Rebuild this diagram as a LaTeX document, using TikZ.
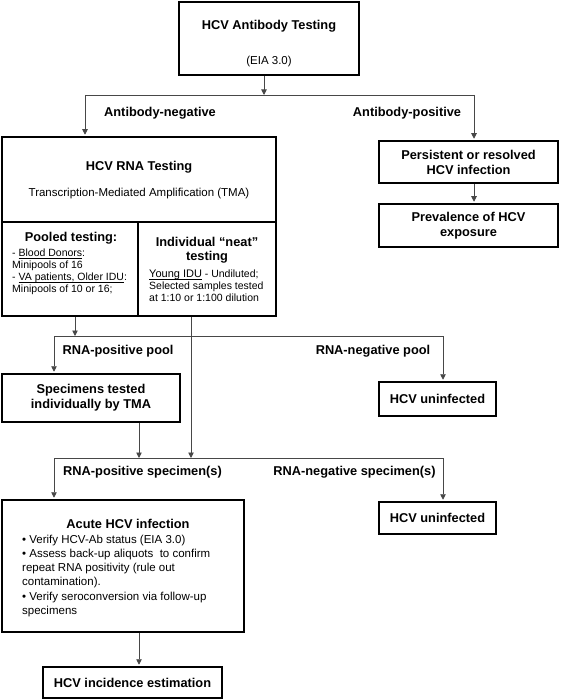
\documentclass[tikz,border=0pt]{standalone}
\usepackage{fontspec}
\setmainfont{Liberation Sans}
\usetikzlibrary{arrows.meta}
\newcommand\hbold{\fontsize{12.8}{15}\selectfont\bfseries}
\newcommand\hreg{\fontsize{11.5}{14.3}\selectfont}
\newcommand\hsmall{\fontsize{10.5}{12}\selectfont}
\newcommand\myul[1]{\setbox0\hbox{#1}\rlap{\rule[-1.4pt]{\wd0}{0.5pt}}\box0\relax}
\tikzset{
  box/.style={draw=black, line width=2.3pt, inner sep=0pt, align=center, font=\hbold},
  conn/.style={draw=black!72, line width=0.9pt},
  arr/.style={conn, -{Triangle[length=5.5pt,width=5.5pt]}},
  arrbox/.style={arr, shorten >=1.1pt},
  lbl/.style={font=\hbold, inner sep=0pt},
  txt/.style={font=\hreg, inner sep=0pt},
  lst/.style={inner sep=0pt, align=left, anchor=north west},
}
\begin{document}
\begin{tikzpicture}[x=1pt, y=-1pt]
\useasboundingbox (0,0) rectangle (560,700);
% boxes
\node[box, minimum width=180pt, minimum height=73pt] (abtest) at (269,38.5) {};
\node[lbl] (abtestt) at (269,26) {HCV Antibody Testing};
\node[txt] (abtests) at (269,62) {(EIA 3.0)};

\node[box, minimum width=274pt, minimum height=85pt] (rna) at (139,179.5) {};
\node[lbl] (rnat) at (139,167) {HCV RNA Testing};
\node[txt] (rnas) at (139,194) {Transcription-Mediated Amplification (TMA)};

\node[box, minimum width=136pt, minimum height=94pt] (pooled) at (70,269) {};
\node[lbl] (pooledt) at (71,238) {Pooled testing:};
\node[lst, font=\hsmall] (pooledl) at (12,249) {- \myul{Blood Donors}:\\Minipools of 16\\- \myul{VA patients, Older IDU}:\\Minipools of 10 or 16;};

\node[box, minimum width=138pt, minimum height=94pt] (neat) at (207,269) {};
\node[lbl, align=center, font=\fontsize{12.8}{14}\selectfont\bfseries] (neatt) at (207,250.5) {Individual “neat”\\testing};
\node[lst, font=\hsmall] (neatl) at (149,270) {\myul{\fontsize{11}{12}\selectfont Young IDU} - Undiluted;\\Selected samples tested\\at 1:10 or 1:100 dilution};

\node[box, minimum width=179pt, minimum height=42pt] (persist) at (468.5,162) {Persistent or resolved\\HCV infection};
\node[box, minimum width=179pt, minimum height=43pt] (prev) at (468.5,225.5) {Prevalence of HCV\\exposure};

\node[box, minimum width=178pt, minimum height=48pt] (spec) at (91,398) {Specimens tested\\individually by TMA};
\node[box, minimum width=117pt, minimum height=34pt] (uninfa) at (437.5,399) {HCV uninfected};

\node[box, minimum width=242pt, minimum height=132pt] (acute) at (123,566) {};
\node[lbl] (acutet) at (128,524) {Acute HCV infection};
\node[lst, font=\hreg] (acutel) at (22,534.5) {• Verify HCV-Ab status (EIA 3.0)\\• Assess back-up aliquots~ to confirm\\repeat RNA positivity (rule out\\contamination).\\• Verify seroconversion via follow-up\\specimens};

\node[box, minimum width=117pt, minimum height=32pt] (uninfb) at (437.5,518) {HCV uninfected};
\node[box, minimum width=179pt, minimum height=31pt] (incid) at (132.5,682.5) {HCV incidence estimation};

% labels
\node[lbl] (labneg) at (160,113) {Antibody-negative};
\node[lbl] (labpos) at (407,113) {Antibody-positive};
\node[lbl] (labpp) at (118,351) {RNA-positive pool};
\node[lbl] (labnp) at (373,351) {RNA-negative pool};
\node[lbl] (labps) at (142.5,472) {RNA-positive specimen(s)};
\node[lbl] (labns) at (354.5,472) {RNA-negative specimen(s)};

% connectors
\coordinate (j1) at (264,95);
\coordinate (j1l) at (85,95);
\coordinate (j1r) at (474,95);
\draw[arr] (j1 |- abtest.south) -- (j1);
\draw[conn] (j1l) -- (j1r);
\draw[arrbox] (j1l) -- (j1l |- rna.north);
\draw[arrbox] (j1r) -- (j1r |- persist.north);
\draw[arrbox] (j1r |- persist.south) -- (j1r |- prev.north);

\coordinate (j2) at (75,336);
\coordinate (j2l) at (54,336);
\coordinate (j2r) at (443,336);
\draw[arr] (j2 |- pooled.south) -- (j2);
\draw[conn] (j2l) -- (j2r);
\draw[arrbox] (j2l) -- (j2l |- spec.north);
\draw[arrbox] (j2r) -- (j2r |- uninfa.north);

\coordinate (j3a) at (139,458);
\coordinate (j3b) at (191,458);
\coordinate (j3l) at (54,458);
\coordinate (j3r) at (443,458);
\draw[arr] (j3b |- neat.south) -- (j3b);
\draw[arr] (j3a |- spec.south) -- (j3a);
\draw[conn] (j3l) -- (j3r);
\draw[arrbox] (j3l) -- (j3l |- acute.north);
\draw[arrbox] (j3r) -- (j3r |- uninfb.north);
\draw[arrbox] (j3a |- acute.south) -- (j3a |- incid.north);
\end{tikzpicture}
\end{document}
